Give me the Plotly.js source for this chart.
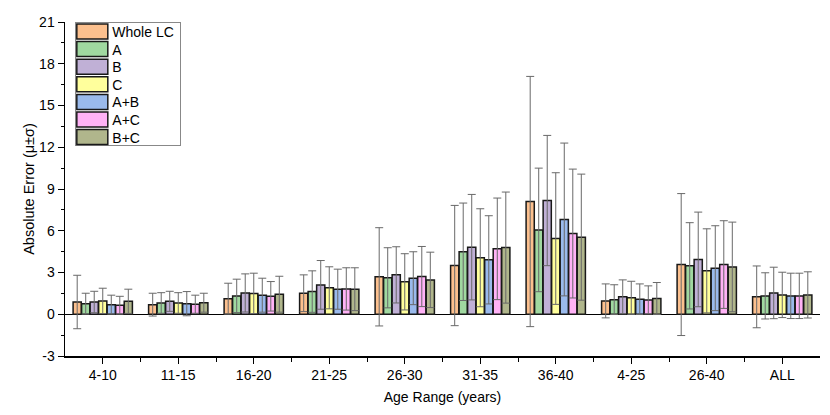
<!DOCTYPE html>
<html>
<head>
<meta charset="utf-8">
<script src="https://cdn.plot.ly/plotly-3.0.1.min.js"></script>
<style>
  body { margin: 0; background: #fff; }
  #chart { width: 830px; height: 415px; }
</style>
</head>
<body>
<div id="chart"></div>
<script>
// Age ranges on the x axis
var ageRanges = ["4-10", "11-15", "16-20", "21-25", "26-30", "31-35", "36-40", "4-25", "26-40", "ALL"];

// Y axis tick values
var yTicks = [-3, 0, 3, 6, 9, 12, 15, 18, 21];

// Series names (legend order)
var seriesNames = ["Whole LC", "A", "B", "C", "A+B", "A+C", "B+C"];

// Mean absolute error per age range
var meanWholeLC = [0.88, 0.69, 1.12, 1.51, 2.69, 3.50, 8.10, 0.96, 3.57, 1.25];
var meanA       = [0.76, 0.81, 1.32, 1.63, 2.62, 4.49, 6.06, 1.05, 3.48, 1.32];
var meanB       = [0.88, 0.93, 1.53, 2.11, 2.83, 4.82, 8.17, 1.25, 3.94, 1.53];
var meanC       = [0.96, 0.81, 1.50, 1.90, 2.33, 4.06, 5.44, 1.18, 3.12, 1.39];
var meanAB      = [0.69, 0.76, 1.37, 1.80, 2.59, 3.91, 6.81, 1.08, 3.31, 1.32];
var meanAC      = [0.65, 0.72, 1.29, 1.82, 2.71, 4.70, 5.80, 1.03, 3.57, 1.32];
var meanBC      = [0.93, 0.83, 1.44, 1.80, 2.47, 4.79, 5.54, 1.13, 3.40, 1.39];

// Standard deviation per age range
var sdWholeLC = [1.92, 0.82, 1.11, 1.32, 3.53, 4.32, 8.99, 1.22, 5.10, 2.22];
var sdA       = [0.75, 0.74, 1.20, 1.49, 2.16, 3.50, 4.44, 1.07, 3.10, 1.66];
var sdB       = [0.77, 0.72, 1.37, 1.75, 2.02, 3.79, 4.68, 1.22, 3.40, 1.85];
var sdC       = [0.91, 0.74, 1.45, 1.51, 2.02, 3.52, 4.73, 1.19, 3.02, 1.63];
var sdAB      = [0.68, 0.87, 1.22, 1.44, 1.90, 3.17, 5.49, 1.10, 3.05, 1.63];
var sdAC      = [0.64, 0.65, 1.06, 1.52, 2.16, 3.65, 4.63, 1.01, 3.15, 1.63];
var sdBC      = [0.87, 0.68, 1.29, 1.54, 1.99, 3.99, 4.53, 1.15, 3.22, 1.66];

var means = [meanWholeLC, meanA, meanB, meanC, meanAB, meanAC, meanBC];
var sds = [sdWholeLC, sdA, sdB, sdC, sdAB, sdAC, sdBC];

var barColors = [
  "rgb(252,192,142)",
  "rgb(160,216,160)",
  "rgb(192,176,214)",
  "rgb(255,255,156)",
  "rgb(154,186,236)",
  "rgb(255,178,246)",
  "rgb(176,182,140)"
];

var xPos = ageRanges.map(function(r, i) { return i; });

var data = [];
for (var s = 0; s < seriesNames.length; s++) {
  data.push({
    type: 'bar',
    name: seriesNames[s],
    x: xPos,
    y: means[s],
    marker: {
      color: barColors[s],
      line: {color: 'rgb(25,25,25)', width: 1.5}
    },
    error_y: {
      type: 'data',
      array: sds[s],
      visible: true,
      color: 'rgb(105,105,105)',
      thickness: 1,
      width: 4
    }
  });
}

var minorX = [];
for (var i = 0; i < ageRanges.length - 1; i++) {
  minorX.push(i + 0.5);
}

var layout = {
  width: 830,
  height: 415,
  margin: {l: 65, r: 10, t: 22, b: 59},
  paper_bgcolor: '#fff',
  plot_bgcolor: '#fff',
  font: {family: 'Liberation Sans, Arial, sans-serif', size: 14, color: '#000'},
  barmode: 'group',
  bargap: 0.21,
  bargroupgap: 0.04,
  showlegend: true,
  legend: {
    x: 0.013,
    y: 1.0,
    xanchor: 'left',
    yanchor: 'top',
    bgcolor: '#fff',
    bordercolor: '#888',
    borderwidth: 1,
    font: {size: 14},
    tracegroupgap: 0
  },
  xaxis: {
    range: [-0.5, 9.5],
    tickmode: 'array',
    tickvals: xPos,
    ticktext: ageRanges,
    ticks: 'outside',
    ticklen: 6,
    tickwidth: 1,
    tickcolor: '#000',
    showline: true,
    linecolor: '#000',
    linewidth: 1.5,
    showgrid: false,
    zeroline: false,
    minor: {tickmode: 'array', tickvals: minorX, ticks: 'outside', ticklen: 4, tickcolor: '#000'},
    title: {text: 'Age Range (years)', font: {size: 14}, standoff: 10}
  },
  yaxis: {
    range: [-3, 21],
    tickmode: 'array',
    tickvals: yTicks,
    ticktext: yTicks.map(String),
    ticks: 'outside',
    ticklen: 6,
    tickwidth: 1,
    tickcolor: '#000',
    showline: true,
    linecolor: '#000',
    linewidth: 1.5,
    showgrid: false,
    zeroline: true,
    zerolinecolor: '#000',
    zerolinewidth: 1.2,
    minor: {dtick: 1.5, tick0: 0, ticks: 'outside', ticklen: 3, tickcolor: '#000'},
    title: {text: 'Absolute Error (μ±σ)', font: {size: 14.5}, standoff: 1}
  }
};

Plotly.newPlot('chart', data, layout, {staticPlot: true}).then(function() {
  // tighter legend rows and wider swatches, like the original
  document.querySelectorAll('.legend .traces').forEach(function(g, i) {
    g.setAttribute('transform', 'translate(-2.5,' + (9.5 + i * 17.6) + ')');
  });
  document.querySelectorAll('.legendpoints path').forEach(function(p) {
    p.setAttribute('d', 'M15.5,7.5H-15.5V-7.5H15.5Z');
  });
  var bg = document.querySelector('.legend .bg');
  if (bg) {
    bg.setAttribute('height', 123);
    bg.setAttribute('width', 105);
  }
});
</script>
</body>
</html>
